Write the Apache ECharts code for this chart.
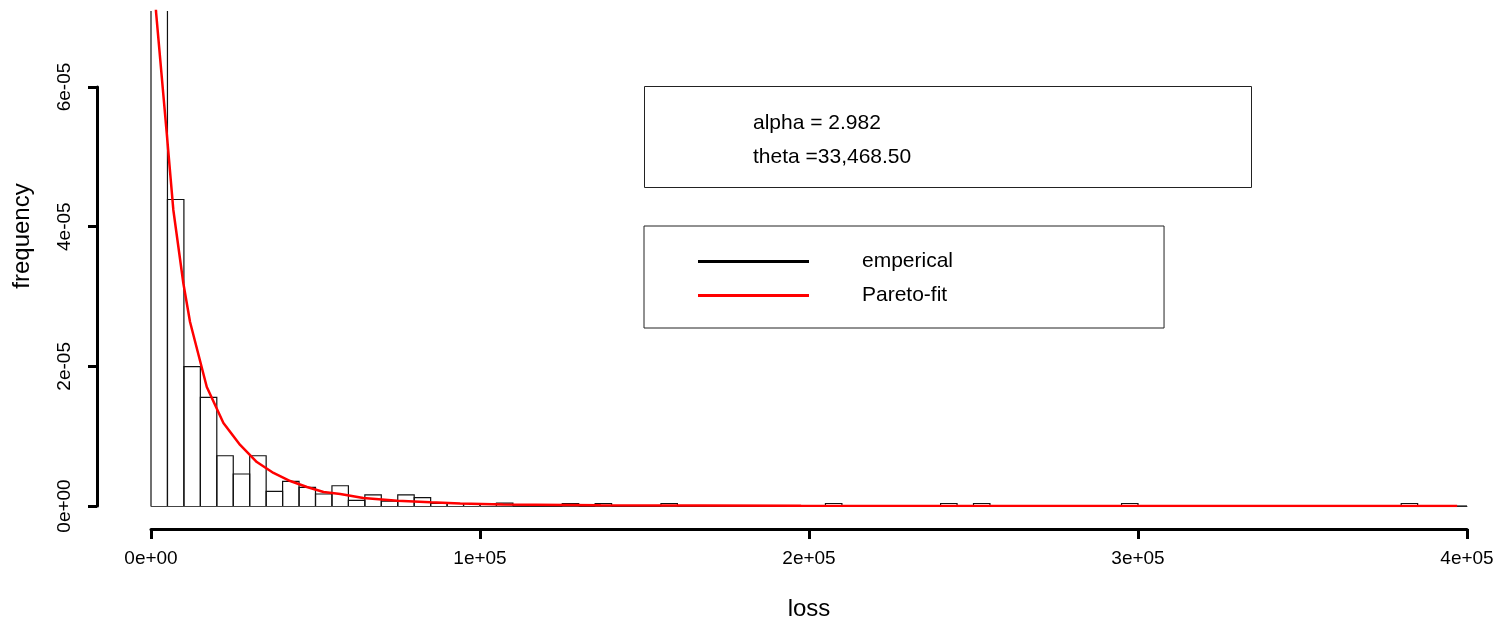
<!DOCTYPE html>
<html>
<head>
<meta charset="utf-8">
<script src="https://cdn.jsdelivr.net/npm/echarts@6/dist/echarts.min.js"></script>
<style>
html,body{margin:0;padding:0;background:#fff;}
#chart{width:1497px;height:619px;}
</style>
</head>
<body>
<div id="chart"></div>
<script>
// ---- data ----
var binWidth = 5000;              // histogram break step (loss)
var binCount = 80;                // breaks 0 .. 400000
// density of each bin, in units of 1e-5 (first bin is clipped at the top in the picture; estimated)
var histDensity = [
  8.5, 4.39, 1.995, 1.556, 0.72, 0.458, 0.72, 0.21, 0.354, 0.268,
  0.172, 0.29, 0.082, 0.158, 0.07, 0.158, 0.12, 0.036, 0.036, 0.036,
  0.036, 0.04, 0, 0, 0, 0.036, 0, 0.036, 0, 0,
  0, 0.036, 0, 0, 0, 0, 0, 0, 0, 0,
  0, 0.036, 0, 0, 0, 0, 0, 0, 0.036, 0,
  0.036, 0, 0, 0, 0, 0, 0, 0, 0, 0.036,
  0, 0, 0, 0, 0, 0, 0, 0, 0, 0,
  0, 0, 0, 0, 0, 0, 0.036, 0, 0, 0
];
// Pareto-fit curve points: loss, density (1e-5)
var fitLoss = [0, 1522, 4780, 6790, 9830, 11870, 16960, 22010, 27090, 32170, 37230,
  42320, 47400, 52450, 57530, 64530, 74880, 84930, 94000, 107000, 136700, 197600, 397000];
var fitDensity = [8.9, 7.08, 5.34, 4.24, 3.19, 2.635, 1.704, 1.189, 0.874, 0.630, 0.473,
  0.358, 0.272, 0.200, 0.172, 0.115, 0.076, 0.053, 0.036, 0.021, 0.010, 0.004, 0.0005];
var xTickLabels = ['0e+00', '1e+05', '2e+05', '3e+05', '4e+05'];
var yTickLabels = ['0e+00', '2e-05', '4e-05', '6e-05'];
var seriesNames = ['emperical', 'Pareto-fit'];
var fitText = ['alpha = 2.982', 'theta =33,468.50'];
var xTitle = 'loss', yTitle = 'frequency';

// ---- build options ----
var FONT = "'Liberation Sans', Arial, sans-serif";
var SCALE = 1e-5;
var histData = histDensity.map(function (d, i) {
  return [i * binWidth, (i + 1) * binWidth, d * SCALE];
});
var fitData = fitLoss.map(function (x, i) { return [x, fitDensity[i] * SCALE]; });

var chart = echarts.init(document.getElementById('chart'));
chart.setOption({
  animation: false,
  backgroundColor: '#fff',
  textStyle: { fontFamily: FONT },
  title: {
    text: fitText.join('\n'),
    left: 644, top: 86,
    padding: [20, 341, 14, 109],
    borderColor: '#222', borderWidth: 1,
    textStyle: { fontSize: 21, fontWeight: 'normal', lineHeight: 34, color: '#000', fontFamily: FONT }
  },
  legend: {
    left: 644, top: 226, orient: 'vertical',
    padding: [25, 211, 22, 54],
    itemWidth: 111, itemHeight: 3, itemGap: 13,
    borderColor: '#222', borderWidth: 1,
    selectedMode: false,
    textStyle: { fontSize: 21, color: '#000', lineHeight: 20, padding: [0, 0, 0, 48], fontFamily: FONT },
    data: [
      { name: seriesNames[0], icon: 'rect', itemStyle: { color: '#000' } },
      { name: seriesNames[1], icon: 'rect', itemStyle: { color: '#ff0000' } }
    ]
  },
  grid: [
    { left: 151, right: 30, top: 11, bottom: 113, outerBoundsMode: 'none', containLabel: false },
    { left: 97, right: 30, top: 87, bottom: 113, outerBoundsMode: 'none', containLabel: false }
  ],
  xAxis: [
    {
      gridIndex: 0, type: 'value', min: 0, max: 400000, interval: 100000,
      position: 'bottom', offset: 23,
      axisLine: { onZero: false, lineStyle: { color: '#000', width: 3 } },
      axisTick: { length: 10, lineStyle: { color: '#000', width: 3 } },
      axisLabel: {
        fontSize: 19, color: '#000', margin: 20, fontFamily: FONT,
        formatter: function (v) { return xTickLabels[Math.round(v / 100000)]; }
      },
      splitLine: { show: false },
      name: xTitle, nameLocation: 'middle', nameGap: 68,
      nameTextStyle: { fontSize: 24, color: '#000', fontFamily: FONT }
    },
    {
      gridIndex: 0, type: 'value', min: 0, max: 400000, position: 'bottom', offset: 0,
      axisLine: { onZero: false, lineStyle: { color: '#444', width: 1 } },
      axisTick: { show: false }, axisLabel: { show: false }, splitLine: { show: false }
    },
    { gridIndex: 1, type: 'value', show: false, min: 0, max: 1 }
  ],
  yAxis: [
    { gridIndex: 0, type: 'value', min: 0, max: 7.09e-5, show: false },
    {
      gridIndex: 1, type: 'value', min: 0, max: 6e-5, interval: 2e-5,
      axisLine: { show: true, onZero: false, lineStyle: { color: '#000', width: 3 } },
      axisTick: { show: true, length: 9, lineStyle: { color: '#000', width: 3 } },
      axisLabel: {
        rotate: 90, fontSize: 19, color: '#000', margin: 23, fontFamily: FONT,
        formatter: function (v) { return yTickLabels[Math.round(v / 2e-5)]; }
      },
      splitLine: { show: false }
    }
  ],
  graphic: [
    {
      type: 'text', x: 22, y: 236, rotation: Math.PI / 2,
      style: { text: yTitle, font: '24px ' + FONT, fill: '#000', align: 'center', verticalAlign: 'middle' }
    }
  ],
  series: [
    {
      name: seriesNames[0], type: 'custom', xAxisIndex: 0, yAxisIndex: 0,
      encode: { x: [0, 1], y: 2 },
      itemStyle: { color: '#000' },
      data: histData,
      renderItem: function (params, api) {
        var p0 = api.coord([api.value(0), api.value(2)]);
        var p1 = api.coord([api.value(1), 0]);
        var cs = params.coordSys;
        var top = p0[1];
        var style = { stroke: '#111', lineWidth: 1.2, fill: null };
        if (top < cs.y) {
          return {
            type: 'group', children: [
              { type: 'line', shape: { x1: p0[0], y1: p1[1], x2: p0[0], y2: cs.y }, style: style },
              { type: 'line', shape: { x1: p1[0], y1: p1[1], x2: p1[0], y2: cs.y }, style: style }
            ]
          };
        }
        return {
          type: 'polyline',
          shape: { points: [[p0[0], p1[1]], [p0[0], top], [p1[0], top], [p1[0], p1[1]]] },
          style: style
        };
      },
      z: 2
    },
    {
      name: seriesNames[1], type: 'line', xAxisIndex: 0, yAxisIndex: 0,
      data: fitData, showSymbol: false, symbol: 'none', smooth: false,
      lineStyle: { color: '#ff0000', width: 2.5 },
      itemStyle: { color: '#ff0000' },
      z: 3
    }
  ]
});
</script>
</body>
</html>
